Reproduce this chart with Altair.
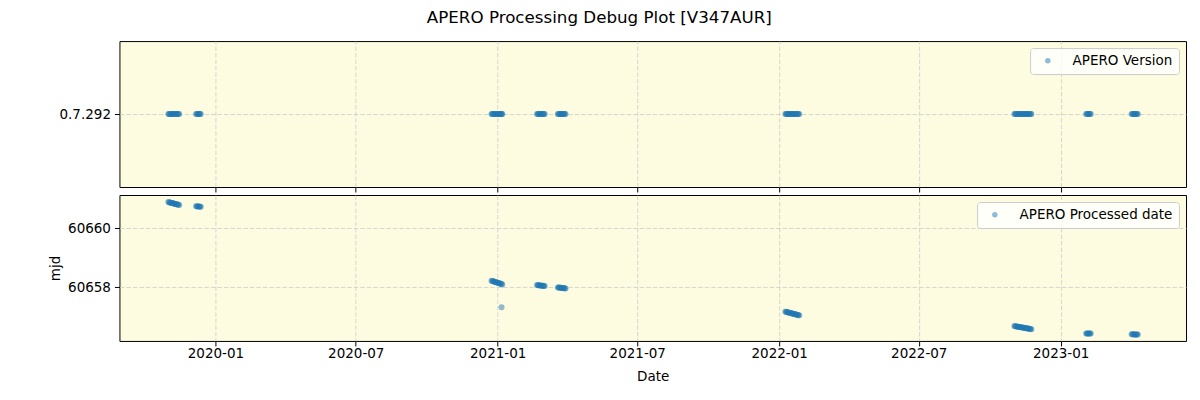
import altair as alt
import pandas as pd

# ---- data ----
obs_dates = [
    # cluster 1
    "2019-11-01", "2019-11-02", "2019-11-03", "2019-11-04", "2019-11-05", "2019-11-06",
    "2019-11-07", "2019-11-08", "2019-11-09", "2019-11-10", "2019-11-11", "2019-11-12",
    "2019-11-13", "2019-11-14", "2019-11-15",
    # cluster 2
    "2019-12-07", "2019-12-08", "2019-12-09", "2019-12-10", "2019-12-11", "2019-12-12", "2019-12-13",
    # cluster 3 (+ outlier)
    "2020-12-24", "2020-12-25", "2020-12-26", "2020-12-27", "2020-12-28", "2020-12-29",
    "2020-12-30", "2020-12-31", "2021-01-01", "2021-01-02", "2021-01-03", "2021-01-04",
    "2021-01-05", "2021-01-06", "2021-01-07", "2021-01-06",
    # cluster 4
    "2021-02-21", "2021-02-22", "2021-02-23", "2021-02-24", "2021-02-25", "2021-02-26",
    "2021-02-27", "2021-02-28", "2021-03-01", "2021-03-02", "2021-03-03",
    # cluster 5
    "2021-03-20", "2021-03-21", "2021-03-22", "2021-03-23", "2021-03-24", "2021-03-25",
    "2021-03-26", "2021-03-27", "2021-03-28", "2021-03-29", "2021-03-30",
    # cluster 6
    "2022-01-09", "2022-01-10", "2022-01-11", "2022-01-12", "2022-01-13", "2022-01-14",
    "2022-01-15", "2022-01-16", "2022-01-17", "2022-01-18", "2022-01-19", "2022-01-20",
    "2022-01-21", "2022-01-22", "2022-01-23", "2022-01-24", "2022-01-25", "2022-01-26",
    "2022-01-27",
    # cluster 7
    "2022-11-02", "2022-11-03", "2022-11-04", "2022-11-05", "2022-11-06", "2022-11-07",
    "2022-11-08", "2022-11-09", "2022-11-10", "2022-11-11", "2022-11-12", "2022-11-13",
    "2022-11-14", "2022-11-15", "2022-11-16", "2022-11-17", "2022-11-18", "2022-11-19",
    "2022-11-20", "2022-11-21", "2022-11-22", "2022-11-23", "2022-11-24",
    # cluster 8
    "2023-02-03", "2023-02-04", "2023-02-05", "2023-02-06", "2023-02-07", "2023-02-08", "2023-02-09",
    # cluster 9
    "2023-04-03", "2023-04-04", "2023-04-05", "2023-04-06", "2023-04-07", "2023-04-08",
    "2023-04-09", "2023-04-10", "2023-04-11",
]

processed_mjd = [
    60660.880, 60660.873, 60660.867, 60660.859, 60660.852, 60660.846,
    60660.838, 60660.831, 60660.825, 60660.817, 60660.810, 60660.804,
    60660.796, 60660.789, 60660.782,
    60660.742, 60660.738, 60660.735, 60660.731, 60660.729, 60660.726, 60660.722,
    60658.221, 60658.212, 60658.204, 60658.195, 60658.186, 60658.178,
    60658.170, 60658.161, 60658.152, 60658.143, 60658.133, 60658.124,
    60658.113, 60658.104, 60658.094, 60657.320,
    60658.072, 60658.069, 60658.066, 60658.063, 60658.060, 60658.056,
    60658.052, 60658.048, 60658.045, 60658.041, 60658.037,
    60657.992, 60657.989, 60657.986, 60657.983, 60657.979, 60657.975,
    60657.972, 60657.968, 60657.964, 60657.960, 60657.956,
    60657.172, 60657.166, 60657.159, 60657.151, 60657.145, 60657.138,
    60657.130, 60657.123, 60657.116, 60657.109, 60657.102, 60657.095,
    60657.088, 60657.081, 60657.074, 60657.067, 60657.060, 60657.053,
    60657.046,
    60656.683, 60656.679, 60656.674, 60656.669, 60656.664, 60656.660,
    60656.655, 60656.650, 60656.646, 60656.641, 60656.636, 60656.632,
    60656.627, 60656.622, 60656.617, 60656.612, 60656.607, 60656.602,
    60656.597, 60656.592, 60656.588, 60656.583, 60656.578,
    60656.436, 60656.435, 60656.433, 60656.432, 60656.431, 60656.429, 60656.428,
    60656.406, 60656.405, 60656.404, 60656.402, 60656.401, 60656.400,
    60656.399, 60656.398, 60656.396,
]

apero_version = "0.7.292"
version_values = [apero_version] * len(obs_dates)

x_tick_labels = ["2020-01", "2020-07", "2021-01", "2021-07", "2022-01", "2022-07", "2023-01"]
mjd_tick_labels = [60658, 60660]

title_text = "APERO Processing Debug Plot [V347AUR]"
series_top = "APERO Version"
series_bottom = "APERO Processed date"

# ---- build tables ----
df_top = pd.DataFrame({"date": obs_dates, "version": version_values, "series": series_top})
df_bot = pd.DataFrame({"date": obs_dates, "mjd": processed_mjd, "series": series_bottom})

tick_vals = [alt.DateTime(year=int(t[:4]), month=int(t[5:7]), date=1, utc=True) for t in x_tick_labels]
x_scale = alt.Scale(
    type="utc",
    domain=[alt.DateTime(year=2019, month=8, date=29, hours=14, utc=True),
            alt.DateTime(year=2023, month=6, date=12, hours=12, utc=True)],
)

FONT = "DejaVu Sans"
BLUE = "#1f77b4"
FS = 13.5
W, H = 1067, 146
MSIZE = 36


def legend():
    return alt.Legend(
        title=None, orient="top-right", offset=7, padding=6,
        fillColor="rgba(255,255,255,0.8)", strokeColor="#cccccc", cornerRadius=3,
        symbolType="circle", symbolSize=30, symbolOpacity=0.5, symbolStrokeWidth=0,
        symbolFillColor=BLUE, symbolOffset=5, labelOffset=18,
        labelFont=FONT, labelFontSize=FS, labelColor="black",
    )


top = alt.Chart(df_top).mark_circle(size=MSIZE, opacity=0.5).encode(
    x=alt.X("date:T", scale=x_scale,
            axis=alt.Axis(values=tick_vals, labels=False, title=None, grid=True)),
    y=alt.Y("version:N", axis=alt.Axis(title=None, grid=True)),
    color=alt.Color("series:N", scale=alt.Scale(range=[BLUE]), legend=legend()),
).properties(width=W, height=H)

bottom = alt.Chart(df_bot).mark_circle(size=MSIZE, opacity=0.5).encode(
    x=alt.X("date:T", scale=x_scale,
            axis=alt.Axis(values=tick_vals, labelExpr="utcFormat(datum.value, '%Y-%m')",
                          title="Date", grid=True, labelPadding=1, titlePadding=9)),
    y=alt.Y("mjd:Q", scale=alt.Scale(domain=[60656.18, 60661.12], nice=False, zero=False),
            axis=alt.Axis(values=mjd_tick_labels, format="d", title="mjd", grid=True)),
    color=alt.Color("series:N", scale=alt.Scale(range=[BLUE]), legend=legend()),
).properties(width=W, height=H)

chart = alt.vconcat(
    top, bottom, spacing=1,
    title=alt.TitleParams(title_text, font=FONT, fontSize=16.7, fontWeight="normal",
                          color="black", anchor="middle", offset=13.5, dx=-18),
).resolve_scale(
    y="independent", color="independent"
).resolve_legend(
    color="independent"
).properties(
    padding={"left": 39.5, "top": 2, "right": 5, "bottom": 5}
).configure_view(
    stroke="black", strokeWidth=1, fill="#FDFCE1"
).configure_axis(
    labelFont=FONT, titleFont=FONT, labelFontSize=FS, titleFontSize=FS,
    labelColor="black", titleColor="black", titleFontWeight="normal",
    tickColor="black", tickSize=5, labelPadding=4, domain=False,
    gridColor="#cccccc", gridDash=[4.5, 2], gridWidth=0.8,
    titlePadding=5,
)

chart.save("out.html", embed_options={"renderer": "svg", "actions": False})
